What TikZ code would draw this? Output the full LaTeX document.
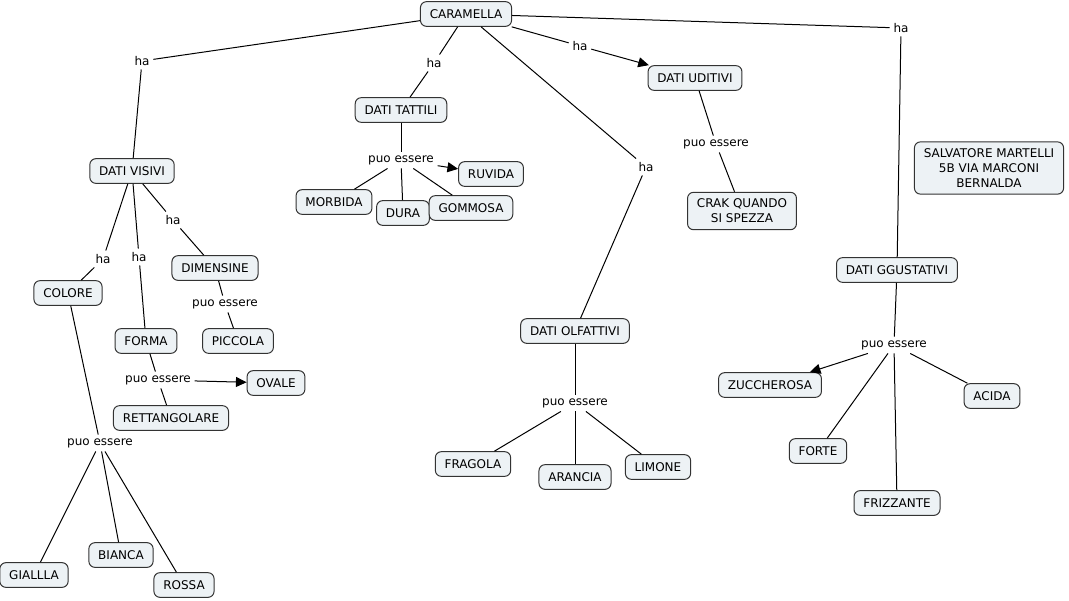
\documentclass[tikz,border=0pt]{standalone}
\usepackage{fontspec}
\setmainfont{DejaVu Sans}
\usepackage{xcolor}
\usepackage{tikz}
\usetikzlibrary{shapes}
\usetikzlibrary{arrows.meta}
\definecolor{grigio}{rgb}{0.93,0.95,0.96}
\definecolor{bordo}{rgb}{0.2,0.2,0.2}

\begin{document}
\begin{tikzpicture}[x=0.75pt,y=-0.75pt,
	line width=0.75pt,
	font=\fontsize{9}{11.25}\selectfont,
  concetto/.style={draw=bordo,fill=grigio,rounded corners=4.5pt,inner xsep=7pt,minimum height=18.5pt,align=center},
  frase/.style={inner sep=2.5pt},
  freccia/.style={-{Triangle[length=8pt,width=7.5pt]}}]
  \useasboundingbox (0,0) rectangle (1069,600);

  \node[concetto] (caramella) at (466,14) {CARAMELLA};
  \node[concetto] (visivi) at (132,171) {DATI VISIVI};
  \node[concetto] (tattili) at (401,110) {DATI TATTILI};
  \node[concetto] (uditivi) at (695,78) {DATI UDITIVI};
  \node[concetto] (olfattivi) at (575,331) {DATI OLFATTIVI};
  \node[concetto] (gustativi) at (897,270) {DATI GGUSTATIVI};
  \node[concetto,inner ysep=5pt] (autore) at (989,168) {SALVATORE MARTELLI\\5B VIA MARCONI\\BERNALDA};

  \node[concetto] (colore) at (68,293) {COLORE};
  \node[concetto] (forma) at (146,341) {FORMA};
  \node[concetto] (dimensine) at (215,268) {DIMENSINE};
  \node[concetto] (piccola) at (238,341) {PICCOLA};
  \node[concetto] (ovale) at (276,383) {OVALE};
  \node[concetto] (rettangolare) at (171,418) {RETTANGOLARE};
  \node[concetto] (giallla) at (34,575) {GIALLLA};
  \node[concetto] (bianca) at (121,555) {BIANCA};
  \node[concetto] (rossa) at (184,585) {ROSSA};

  \node[concetto] (morbida) at (334,202) {MORBIDA};
  \node[concetto] (dura) at (403,213) {DURA};
  \node[concetto] (gommosa) at (471,208) {GOMMOSA};
  \node[concetto] (ruvida) at (491,174) {RUVIDA};

  \node[concetto,inner ysep=5pt] (crak) at (742,211) {CRAK QUANDO\\SI SPEZZA};

  \node[concetto] (fragola) at (473,464) {FRAGOLA};
  \node[concetto] (arancia) at (575,477) {ARANCIA};
  \node[concetto] (limone) at (658,467) {LIMONE};

  \node[concetto] (zuccherosa) at (770,385) {ZUCCHEROSA};
  \node[concetto] (acida) at (992,396) {ACIDA};
  \node[concetto] (forte) at (818,451) {FORTE};
  \node[concetto] (frizzante) at (897,503) {FRIZZANTE};

  \node[frase] (ha1) at (142,61) {ha};
  \node[frase] (ha2) at (434,63) {ha};
  \node[frase] (ha3) at (580,46) {ha};
  \node[frase] (ha4) at (646,167) {ha};
  \node[frase] (ha5) at (901,28) {ha};
  \node[frase] (ha6) at (103,259) {ha};
  \node[frase] (ha7) at (139,257) {ha};
  \node[frase] (ha8) at (173,220) {ha};
  \node[frase] (pe1) at (225,304) {puo essere};
  \node[frase] (pe2) at (158,380) {puo essere};
  \node[frase] (pe3) at (100,443) {puo essere};
  \node[frase] (pe4) at (401,160) {puo essere};
  \node[frase] (pe5) at (716,144) {puo essere};
  \node[frase] (pe6) at (575,403) {puo essere};
  \node[frase] (pe7) at (894,345) {puo essere};

  \draw (caramella) -- (ha1) -- (visivi);
  \draw (caramella) -- (ha2) -- (tattili);
  \draw (caramella) -- (ha3);
  \draw[freccia] (ha3) -- (uditivi);
  \draw (caramella) -- (ha4) -- (olfattivi);
  \draw (caramella) -- (ha5) -- (gustativi);

  \draw (visivi) -- (ha6) -- (colore);
  \draw (visivi) -- (ha7) -- (forma);
  \draw (visivi) -- (ha8) -- (dimensine);
  \draw (dimensine) -- (pe1) -- (piccola);
  \draw (forma) -- (pe2) -- (rettangolare);
  \draw[freccia] (pe2) -- (ovale);
  \draw (colore) -- (pe3);
  \draw (pe3) -- (giallla);
  \draw (pe3) -- (bianca);
  \draw (pe3) -- (rossa);

  \draw (tattili) -- (pe4);
  \draw (pe4) -- (morbida);
  \draw (pe4) -- (dura);
  \draw (pe4) -- (gommosa);
  \draw[freccia] (pe4) -- (ruvida);

  \draw (uditivi) -- (pe5) -- (crak);

  \draw (olfattivi) -- (pe6);
  \draw (pe6) -- (fragola);
  \draw (pe6) -- (arancia);
  \draw (pe6) -- (limone);

  \draw (gustativi) -- (pe7);
  \draw[freccia] (pe7) -- (zuccherosa);
  \draw (pe7) -- (forte);
  \draw (pe7) -- (frizzante);
  \draw (pe7) -- (acida);

\end{tikzpicture}
\end{document}
